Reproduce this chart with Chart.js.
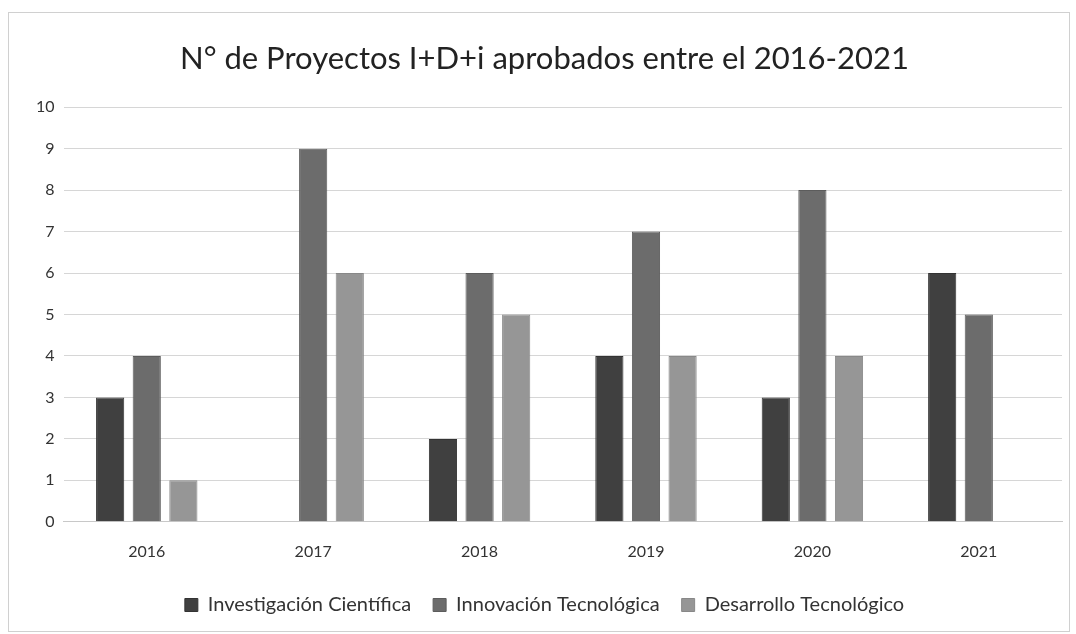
<!DOCTYPE html>
<html>
<head>
<meta charset="utf-8">
<script src="https://cdn.jsdelivr.net/npm/chart.js@4.4.1/dist/chart.umd.min.js"></script>
<style>
  html, body { margin: 0; padding: 0; background: #fff; }
  #frame { position: absolute; left: 8px; top: 12px; width: 1062px; height: 620px; border: 1px solid #d0d0d0; box-sizing: border-box; }
  #wrap { position: absolute; left: 0; top: 0; width: 1076px; height: 634px; }
</style>
</head>
<body>
<div id="frame"></div>
<div id="wrap"><canvas id="chart"></canvas></div>
<script>
const years = ["2016", "2017", "2018", "2019", "2020", "2021"];
const investigacion = [3, 0, 2, 4, 3, 6];
const innovacion = [4, 9, 6, 7, 8, 5];
const desarrollo = [1, 6, 5, 4, 4, 0];

const FONT = "Lato, 'Open Sans', sans-serif";

new Chart(document.getElementById("chart"), {
  type: "bar",
  data: {
    labels: years,
    datasets: [
      { label: "Investigación Científica", data: investigacion, backgroundColor: "#404040", borderColor: "#333", borderWidth: 1 },
      { label: "Innovación Tecnológica", data: innovacion, backgroundColor: "#6c6c6c", borderColor: "#5c5c5c", borderWidth: 1 },
      { label: "Desarrollo Tecnológico", data: desarrollo, backgroundColor: "#969696", borderColor: "#888", borderWidth: 1 }
    ]
  },
  options: {
    responsive: true,
    maintainAspectRatio: false,
    animation: false,
    categoryPercentage: 0.66,
    barPercentage: 0.77,
    layout: { padding: { left: 27, right: 14, top: 12, bottom: 9 } },
    scales: {
      x: {
        grid: { display: false },
        border: { color: "#c8c8c8" },
        ticks: { color: "#333", font: { family: FONT, size: 16 }, padding: 12 }
      },
      y: {
        min: 0,
        max: 10,
        ticks: { stepSize: 1, color: "#333", font: { family: FONT, size: 16 }, padding: 9 },
        grid: { color: "#d6d6d6", drawTicks: false },
        border: { display: false }
      }
    },
    plugins: {
      title: {
        display: true,
        text: "N° de Proyectos I+D+i aprobados entre el 2016-2021",
        color: "#222",
        font: { family: FONT, size: 31, weight: "normal" },
        padding: { top: 28, bottom: 30 }
      },
      legend: {
        position: "bottom",
        labels: { color: "#333", font: { family: FONT, size: 20 }, boxWidth: 13, boxHeight: 13, padding: 22 }
      },
      tooltip: { enabled: false }
    }
  }
});
</script>
</body>
</html>
